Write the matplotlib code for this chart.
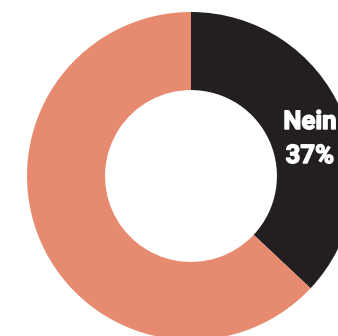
import matplotlib
matplotlib.use('Agg')
import matplotlib.pyplot as plt
import matplotlib.patheffects as pe

labels = ['Nein', 'Ja']
values = [37, 63]
colors = ['#231f20', '#e68b70']

fig = plt.figure(figsize=(3.38, 3.36), dpi=100)
ax = fig.add_axes([0, 0, 1, 1])
ax.pie(values, colors=colors, startangle=90, counterclock=False,
       radius=1, wedgeprops=dict(width=0.476, linewidth=0))
ax.set_xlim(-1.1646, 0.8963)
ax.set_ylim(-0.9756, 1.0732)
ax.set_aspect('auto')
ax.axis('off')

# Beschriftung des schwarzen Segments (dicker Strich = fettere Schrift)
fx = [pe.withStroke(linewidth=1.0, foreground='white')]
ax.text(0.7256, 0.2866, labels[0], color='white', fontsize=18.5, fontweight='bold',
        family='Roboto', ha='center', va='baseline', path_effects=fx)
ax.text(0.7256, 0.079, f'{values[0]}%', color='white', fontsize=18.5, fontweight='bold',
        family='Roboto', ha='center', va='baseline', path_effects=fx)

fig.savefig('out.png', dpi=100)
